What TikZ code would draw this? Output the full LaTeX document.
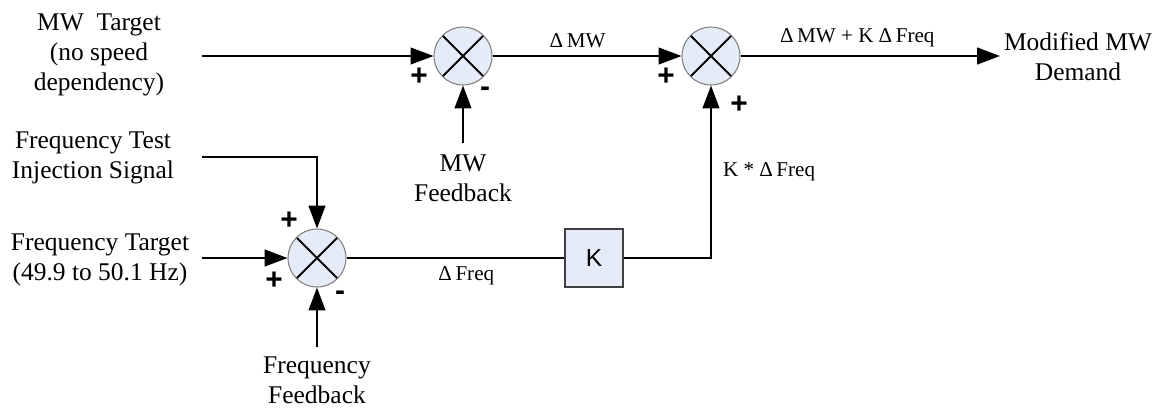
\documentclass[tikz,border=0pt]{standalone}
\usepackage{fontspec}
\setmainfont{Liberation Serif}
\newfontfamily\signfont{Liberation Sans}
\usetikzlibrary{arrows.meta}
\definecolor{sumfill}{HTML}{E6ECF7}
\definecolor{sumdraw}{HTML}{7F7F7F}

\begin{document}
\begin{tikzpicture}[x=0.02cm, y=-0.02cm, >={Triangle[length=13pt,width=9.5pt]},
  sig/.style={line width=1.1pt},
  summer/.style={circle, draw=sumdraw, line width=0.6pt, fill=sumfill,
    minimum size=1.16cm, inner sep=0pt,
    path picture={\draw[black, line width=1.1pt]
      (path picture bounding box.north west) -- (path picture bounding box.south east)
      (path picture bounding box.north east) -- (path picture bounding box.south west);}},
  gain/.style={draw=black!75, line width=0.8pt, fill=sumfill, minimum size=1.16cm,
    inner sep=0pt, font=\signfont\fontsize{14}{14}\selectfont},
  lbl/.style={align=center, font=\fontsize{14.5}{17}\selectfont},
  small/.style={font=\fontsize{12}{14}\selectfont},
  sign/.style={font=\signfont\bfseries\fontsize{17}{17}\selectfont, inner sep=0pt}]
  \useasboundingbox (0,0) rectangle (1155,407);
  % summing junctions and gain
  \node[summer] (s1) at (463,56) {};
  \node[summer] (s2) at (711,56) {};
  \node[summer] (s3) at (317,258) {};
  \node[gain] (k) at (594,258) {K};
  % input and output texts
  \node[lbl] (mwt) at (99,55) {MW\ \ Target\\(no speed\\dependency)};
  \node[lbl] (fti) at (93,158) {Frequency Test\\Injection Signal};
  \node[lbl] (ftg) at (100,260) {Frequency Target\\(49.9 to 50.1 Hz)};
  \node[lbl] (mwf) at (463,178) {MW\\Feedback};
  \node[lbl, anchor=south, inner sep=1pt] (ffb) at (317,406) {Frequency\\Feedback};
  \node[lbl] (dem) at (1078,57) {Modified MW\\Demand};
  % free ends of the signal lines
  \coordinate (mwin) at (202,56);
  \coordinate (out) at (1000,56);
  \coordinate (mwfb) at (463,143);
  \coordinate (inj) at (202,157);
  \coordinate (fin) at (202,258);
  \coordinate (ffbin) at (317,347);
  % MW path
  \draw[sig,->] (mwin) -- (s1);
  \draw[sig,->] (mwfb) -- (s1);
  \draw[sig,->] (s1) -- (s2) node[small, pos=0.45, above=1pt] {Δ\,MW};
  \draw[sig,->] (s2) -- (out) node[small, pos=0.45, above=1pt] {Δ\,MW + K Δ\,Freq};
  % frequency path
  \draw[sig,->] (inj) -| (s3);
  \draw[sig,->] (fin) -- (s3);
  \draw[sig,->] (ffbin) -- (s3);
  \draw[sig] (s3) -- (k) node[small, pos=0.55, below=1pt] {Δ\,Freq};
  \draw[sig,->] (k) -| (s2) node[small, pos=0.75, right=3pt] {K * Δ\,Freq};
  % signs
  \node[sign] (p1) at (419,77) {+};
  \node[sign] (m1) at (485,92) {-};
  \node[sign] (p2) at (666,77) {+};
  \node[sign] (p3) at (739,105) {+};
  \node[sign] (p4) at (289,221) {+};
  \node[sign] (p5) at (274,281) {+};
  \node[sign] (m3) at (340,296) {-};
\end{tikzpicture}
\end{document}
